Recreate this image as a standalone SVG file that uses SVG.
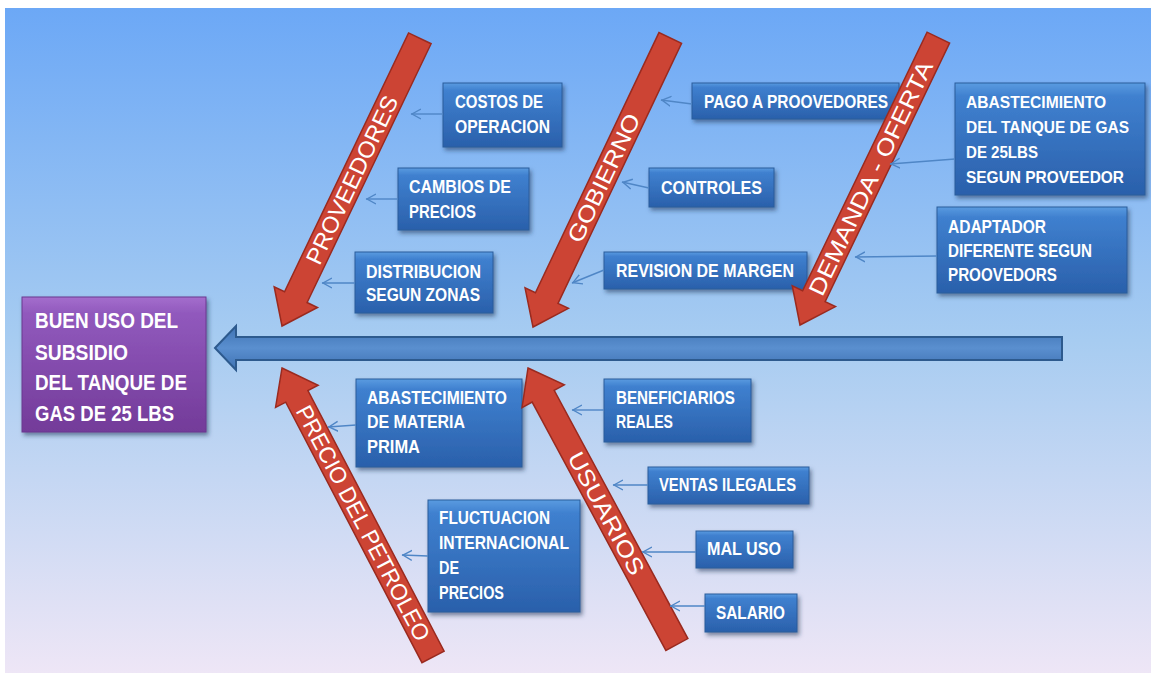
<svg xmlns="http://www.w3.org/2000/svg" width="1151" height="675" viewBox="0 0 1151 675">
  <defs>
    <linearGradient id="bg" x1="0" y1="0" x2="0" y2="1">
      <stop offset="0" stop-color="#6ca8f6"/>
      <stop offset="0.5" stop-color="#a7ccf1"/>
      <stop offset="1" stop-color="#eee6f6"/>
    </linearGradient>
    <linearGradient id="boxg" x1="0" y1="0" x2="0" y2="1">
      <stop offset="0" stop-color="#5a9be0"/>
      <stop offset="0.12" stop-color="#3f80cf"/>
      <stop offset="1" stop-color="#2a60ab"/>
    </linearGradient>
    <linearGradient id="purg" x1="0" y1="0" x2="0" y2="1">
      <stop offset="0" stop-color="#a46ecd"/>
      <stop offset="0.12" stop-color="#9159bd"/>
      <stop offset="1" stop-color="#733b99"/>
    </linearGradient>
    <linearGradient id="spineg" x1="0" y1="0" x2="0" y2="1">
      <stop offset="0" stop-color="#3f73b4"/>
      <stop offset="0.5" stop-color="#5a8fcf"/>
      <stop offset="1" stop-color="#3f72b3"/>
    </linearGradient>
    <filter id="sh" x="-10%" y="-10%" width="130%" height="140%">
      <feDropShadow dx="2" dy="3" stdDeviation="2" flood-color="#1b3557" flood-opacity="0.55"/>
    </filter>
    <marker id="open" markerUnits="userSpaceOnUse" markerWidth="12" markerHeight="12" refX="10" refY="6" orient="auto">
      <path d="M10,1 L1,6 L10,11" fill="none" stroke="#4f86c6" stroke-width="1.4" transform="rotate(180 6 6) translate(2 0)"/>
    </marker>
    <style>
      .box { fill: url(#boxg); stroke: #2b5c9b; stroke-width: 1; filter: url(#sh); }
      .main { fill: url(#purg); stroke: #6a3890; stroke-width: 1; filter: url(#sh); }
      .bt { font-family: "Liberation Sans", Arial, sans-serif; font-weight: bold; font-size: 18px; fill: #ffffff; }
      .bts { font-size: 16.5px; }
      .mt { font-family: "Liberation Sans", Arial, sans-serif; font-weight: bold; font-size: 22px; fill: #ffffff; }
      .bone { fill: #cc4434; stroke: #9a2a1f; stroke-width: 1.5; }
      .bl { font-family: "Liberation Sans", Arial, sans-serif; font-size: 23px; fill: #ffffff; text-anchor: middle; }
      .con { stroke: #4f86c6; stroke-width: 1.4; fill: none; marker-end: url(#open); }
      .spine { fill: url(#spineg); stroke: #2d5a8e; stroke-width: 2; }
    </style>
  </defs>

  <rect x="0" y="0" width="1151" height="675" fill="#ffffff"/>
  <rect x="5" y="8" width="1146" height="665" fill="url(#bg)"/>

  <!-- spine -->
  <g id="spine">
    <path class="spine" d="M215,348 L236,326 L236,337 L1062,337 L1062,360 L236,360 L236,370 Z"/>
  </g>

  <!-- cause boxes -->
  <g id="costos">
    <rect class="box" x="443" y="83" width="119" height="64"/>
    <text class="bt" x="455" y="108" textLength="88" lengthAdjust="spacingAndGlyphs">COSTOS DE</text>
    <text class="bt" x="455" y="133" textLength="95" lengthAdjust="spacingAndGlyphs">OPERACION</text>
  </g>
  <g id="cambios">
    <rect class="box" x="398" y="168" width="131" height="62"/>
    <text class="bt" x="409" y="193" textLength="102" lengthAdjust="spacingAndGlyphs">CAMBIOS DE</text>
    <text class="bt" x="409" y="218" textLength="67" lengthAdjust="spacingAndGlyphs">PRECIOS</text>
  </g>
  <g id="distribucion">
    <rect class="box" x="355" y="252" width="138" height="61"/>
    <text class="bt" x="366" y="278" textLength="115" lengthAdjust="spacingAndGlyphs">DISTRIBUCION</text>
    <text class="bt" x="366" y="301" textLength="114" lengthAdjust="spacingAndGlyphs">SEGUN ZONAS</text>
  </g>
  <g id="pago">
    <rect class="box" x="692" y="83" width="207" height="36"/>
    <text class="bt" x="704" y="108" textLength="184" lengthAdjust="spacingAndGlyphs">PAGO A PROOVEDORES</text>
  </g>
  <g id="controles">
    <rect class="box" x="649" y="168" width="125" height="39"/>
    <text class="bt" x="661" y="194" textLength="101" lengthAdjust="spacingAndGlyphs">CONTROLES</text>
  </g>
  <g id="revision">
    <rect class="box" x="604" y="252" width="203" height="37"/>
    <text class="bt" x="616" y="277" textLength="178" lengthAdjust="spacingAndGlyphs">REVISION DE MARGEN</text>
  </g>
  <g id="abastecimiento-gas">
    <rect class="box" x="955" y="83" width="190" height="112"/>
    <text class="bt bts" x="966" y="108" textLength="140" lengthAdjust="spacingAndGlyphs">ABASTECIMIENTO</text>
    <text class="bt bts" x="966" y="133" textLength="163" lengthAdjust="spacingAndGlyphs">DEL TANQUE DE GAS</text>
    <text class="bt bts" x="966" y="158" textLength="72" lengthAdjust="spacingAndGlyphs">DE 25LBS</text>
    <text class="bt bts" x="966" y="183" textLength="158" lengthAdjust="spacingAndGlyphs">SEGUN PROVEEDOR</text>
  </g>
  <g id="adaptador">
    <rect class="box" x="937" y="207" width="190" height="86"/>
    <text class="bt" x="948" y="233" textLength="98" lengthAdjust="spacingAndGlyphs">ADAPTADOR</text>
    <text class="bt" x="948" y="257" textLength="144" lengthAdjust="spacingAndGlyphs">DIFERENTE SEGUN</text>
    <text class="bt" x="948" y="281" textLength="109" lengthAdjust="spacingAndGlyphs">PROOVEDORS</text>
  </g>
  <g id="abastecimiento-materia">
    <rect class="box" x="356" y="379" width="166" height="88"/>
    <text class="bt" x="367" y="404" textLength="140" lengthAdjust="spacingAndGlyphs">ABASTECIMIENTO</text>
    <text class="bt" x="367" y="428" textLength="98" lengthAdjust="spacingAndGlyphs">DE MATERIA</text>
    <text class="bt" x="367" y="453" textLength="53" lengthAdjust="spacingAndGlyphs">PRIMA</text>
  </g>
  <g id="fluctuacion">
    <rect class="box" x="428" y="500" width="152" height="112"/>
    <text class="bt" x="439" y="524" textLength="111" lengthAdjust="spacingAndGlyphs">FLUCTUACION</text>
    <text class="bt" x="439" y="549" textLength="130" lengthAdjust="spacingAndGlyphs">INTERNACIONAL</text>
    <text class="bt" x="439" y="574" textLength="20" lengthAdjust="spacingAndGlyphs">DE</text>
    <text class="bt" x="439" y="599" textLength="65" lengthAdjust="spacingAndGlyphs">PRECIOS</text>
  </g>
  <g id="beneficiarios">
    <rect class="box" x="604" y="379" width="147" height="63"/>
    <text class="bt" x="616" y="404" textLength="119" lengthAdjust="spacingAndGlyphs">BENEFICIARIOS</text>
    <text class="bt" x="616" y="428" textLength="57" lengthAdjust="spacingAndGlyphs">REALES</text>
  </g>
  <g id="ventas">
    <rect class="box" x="648" y="467" width="161" height="37"/>
    <text class="bt" x="659" y="491" textLength="137" lengthAdjust="spacingAndGlyphs">VENTAS ILEGALES</text>
  </g>
  <g id="maluso">
    <rect class="box" x="696" y="531" width="97" height="37"/>
    <text class="bt" x="707" y="555" textLength="74" lengthAdjust="spacingAndGlyphs">MAL USO</text>
  </g>
  <g id="salario">
    <rect class="box" x="705" y="594" width="92" height="38"/>
    <text class="bt" x="716" y="619" textLength="69" lengthAdjust="spacingAndGlyphs">SALARIO</text>
  </g>

  <!-- bones -->
  <g id="bone-proveedores" transform="translate(282 326) rotate(-64.4)">
    <path class="bone" d="M0,0 L32,-24 L32,-12.5 L319,-12.5 L319,12.5 L32,12.5 L32,24 Z"/>
    <text class="bl" x="162" y="0" dy="8" textLength="184" lengthAdjust="spacingAndGlyphs">PROVEEDORES</text>
  </g>
  <g id="bone-gobierno" transform="translate(533 327) rotate(-64.6)">
    <path class="bone" d="M0,0 L32,-24 L32,-12.5 L320,-12.5 L320,12.5 L32,12.5 L32,24 Z"/>
    <text class="bl" x="165" y="0" dy="8" textLength="140" lengthAdjust="spacingAndGlyphs">GOBIERNO</text>
  </g>
  <g id="bone-demanda" transform="translate(800 325) rotate(-64.3)">
    <path class="bone" d="M0,0 L32,-24 L32,-12.5 L319,-12.5 L319,12.5 L32,12.5 L32,24 Z"/>
    <text class="bl" x="163" y="0" dy="8" textLength="257" lengthAdjust="spacingAndGlyphs">DEMANDA - OFERTA</text>
  </g>
  <g id="bone-precio" transform="translate(282 368) rotate(62.4)">
    <path class="bone" d="M0,0 L32,-24 L32,-12.5 L326,-12.5 L326,12.5 L32,12.5 L32,24 Z"/>
    <text class="bl" x="175" y="0" dy="8" textLength="262" lengthAdjust="spacingAndGlyphs">PRECIO DEL PETROLEO</text>
  </g>
  <g id="bone-usuarios" transform="translate(528 368) rotate(61.7)">
    <path class="bone" d="M0,0 L32,-24 L32,-12.5 L314,-12.5 L314,12.5 L32,12.5 L32,24 Z"/>
    <text class="bl" x="165" y="0" dy="8" textLength="136" lengthAdjust="spacingAndGlyphs">USUARIOS</text>
  </g>

  <!-- connectors -->
  <g id="connectors">
    <line class="con" x1="443" y1="114" x2="411" y2="114"/>
    <line class="con" x1="398" y1="199" x2="366" y2="199"/>
    <line class="con" x1="355" y1="283" x2="322" y2="283"/>
    <line class="con" x1="692" y1="104" x2="661" y2="100"/>
    <line class="con" x1="649" y1="188" x2="622" y2="182"/>
    <line class="con" x1="604" y1="270" x2="572" y2="283"/>
    <line class="con" x1="955" y1="159" x2="890" y2="164"/>
    <line class="con" x1="937" y1="256" x2="855" y2="257"/>
    <line class="con" x1="356" y1="425" x2="328" y2="427"/>
    <line class="con" x1="428" y1="556" x2="402" y2="555"/>
    <line class="con" x1="604" y1="410" x2="572" y2="410"/>
    <line class="con" x1="648" y1="485" x2="613" y2="485"/>
    <line class="con" x1="696" y1="552" x2="642" y2="552"/>
    <line class="con" x1="705" y1="606" x2="670" y2="606"/>
  </g>

  <!-- main effect -->
  <g id="effect">
    <rect class="main" x="22" y="297" width="184" height="135"/>
    <text class="mt" x="35" y="328" textLength="143" lengthAdjust="spacingAndGlyphs">BUEN USO DEL</text>
    <text class="mt" x="35" y="360" textLength="93" lengthAdjust="spacingAndGlyphs">SUBSIDIO</text>
    <text class="mt" x="35" y="390" textLength="152" lengthAdjust="spacingAndGlyphs">DEL TANQUE DE</text>
    <text class="mt" x="35" y="421" textLength="139" lengthAdjust="spacingAndGlyphs">GAS DE 25 LBS</text>
  </g>
</svg>
